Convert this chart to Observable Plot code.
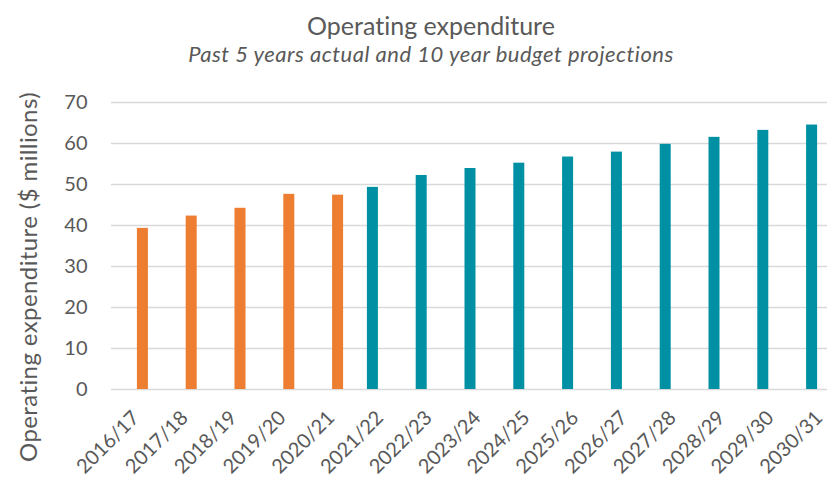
<!DOCTYPE html>
<html>
<head>
<meta charset="utf-8">
<script src="https://cdn.jsdelivr.net/npm/d3@7"></script>
<script src="https://cdn.jsdelivr.net/npm/@observablehq/plot@0.6"></script>
<style>
  html, body { margin: 0; padding: 0; background: #ffffff; }
  body { width: 827px; height: 479px; overflow: hidden; font-family: Lato, "Open Sans", sans-serif; color: #595959; font-variant-ligatures: none; }
  #header { position: relative; height: 80px; width: 827px; }
  #title { position: absolute; left: 0; width: 862px; top: 10px; text-align: center; font-size: 25px; line-height: 30px; }
  #subtitle { position: absolute; left: 0; width: 862px; top: 41px; text-align: center; font-size: 22px; line-height: 26px; font-style: italic; letter-spacing: 0.5px; }
  #chart svg { display: block; overflow: visible; font-variant-ligatures: none; }
  .ylab { letter-spacing: 0.4px; }
</style>
</head>
<body>
<div id="header">
  <div id="title">Operating expenditure</div>
  <div id="subtitle">Past 5 years actual and 10 year budget projections</div>
</div>
<div id="chart"></div>
<script>
// Categories (financial years)
const years = ["2016/17","2017/18","2018/19","2019/20","2020/21","2021/22","2022/23","2023/24","2024/25","2025/26","2026/27","2027/28","2028/29","2029/30","2030/31"];
// Actual operating expenditure ($ millions), first 5 years
const actualYears = ["2016/17","2017/18","2018/19","2019/20","2020/21"];
const actualValues = [39.3, 42.3, 44.2, 47.6, 47.4];
// Budget projections ($ millions), next 10 years
const budgetYears = ["2021/22","2022/23","2023/24","2024/25","2025/26","2026/27","2027/28","2028/29","2029/30","2030/31"];
const budgetValues = [49.3, 52.2, 53.9, 55.2, 56.7, 57.9, 59.8, 61.5, 63.2, 64.5];
// Y axis ticks
const yTicks = [0, 10, 20, 30, 40, 50, 60, 70];
const yLabel = "Operating expenditure ($ millions)";

const actual = actualYears.map((y, i) => ({year: y, value: actualValues[i]}));
const budget = budgetYears.map((y, i) => ({year: y, value: budgetValues[i]}));

const chart = Plot.plot({
  width: 827,
  height: 399,
  marginLeft: 111,
  marginRight: 0,
  marginTop: 22,
  marginBottom: 90,
  style: {fontFamily: "Lato, 'Open Sans', sans-serif", fontSize: "20px", color: "#595959", background: "#ffffff", overflow: "visible"},
  x: {domain: years, range: [111, 843], padding: 0, round: false, label: null},
  y: {domain: [0, 70], label: null},
  marks: [
    Plot.ruleY(yTicks, {stroke: "#d9d9d9", strokeWidth: 1.5}),
    Plot.barY(actual, {x: "year", y: "value", fill: "#ed7d31", insetLeft: 25.9, insetRight: 11.9}),
    Plot.barY(budget, {x: "year", y: "value", fill: "#0090a4", insetLeft: 11.9, insetRight: 25.9}),
    Plot.axisY({ticks: yTicks, tickSize: 0, tickPadding: 24, label: null, fill: "#595959"}),
    Plot.axisX({tickSize: 0, tickRotate: -45, tickPadding: 25, label: null, fill: "#595959"}),
    Plot.text([yLabel], {frameAnchor: "left", textAnchor: "middle", rotate: -90, dx: -82, dy: 31, fontSize: 24, fill: "#595959", className: "ylab"})
  ]
});
document.getElementById("chart").appendChild(chart);
</script>
</body>
</html>
